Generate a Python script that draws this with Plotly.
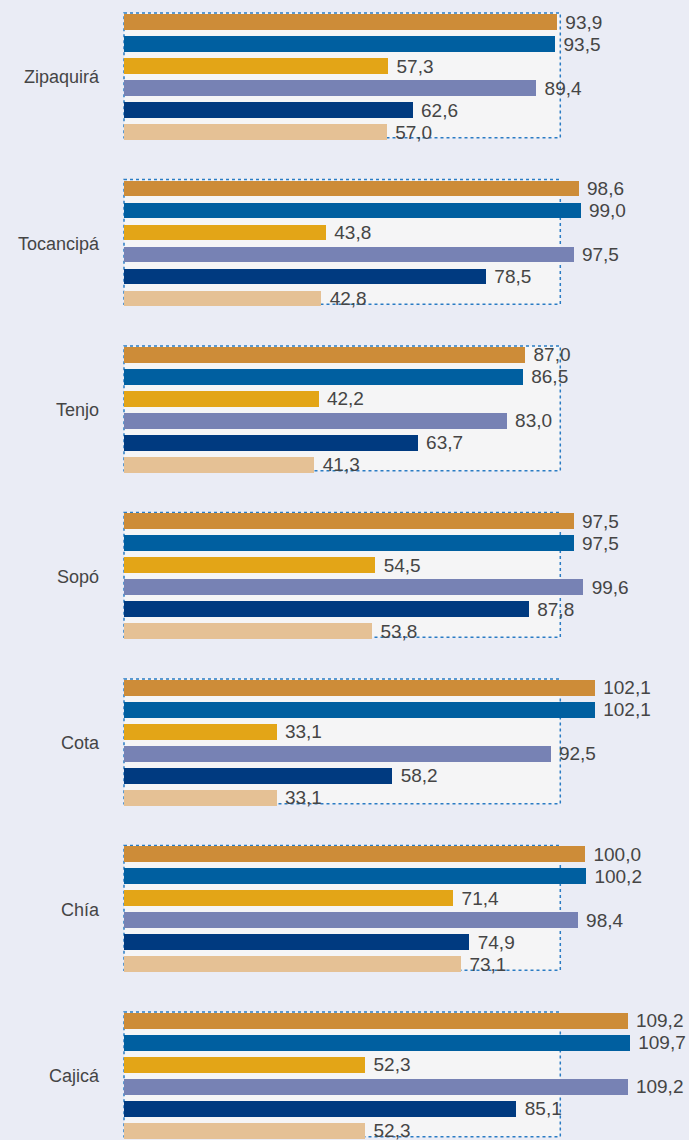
import plotly.graph_objects as go

cities = ["Zipaquirá", "Tocancipá", "Tenjo", "Sopó", "Cota", "Chía", "Cajicá"]
serie_1 = [93.9, 98.6, 87.0, 97.5, 102.1, 100.0, 109.2]
serie_2 = [93.5, 99.0, 86.5, 97.5, 102.1, 100.2, 109.7]
serie_3 = [57.3, 43.8, 42.2, 54.5, 33.1, 71.4, 52.3]
serie_4 = [89.4, 97.5, 83.0, 99.6, 92.5, 98.4, 109.2]
serie_5 = [62.6, 78.5, 63.7, 87.8, 58.2, 74.9, 85.1]
serie_6 = [57.0, 42.8, 41.3, 53.8, 33.1, 73.1, 52.3]

series = [serie_1, serie_2, serie_3, serie_4, serie_5, serie_6]
names = ["Serie 1", "Serie 2", "Serie 3", "Serie 4", "Serie 5", "Serie 6"]
colors = ["#cd8c38", "#005fa0", "#e3a517", "#7782b4", "#003a80", "#e5c195"]

G = 7.568          # group pitch (in bar slots)
BW = 0.727         # bar thickness
PANEL_MAX = 94.6   # right edge of panel box
PX_PER_UNIT = 4.612
FONT = "Liberation Sans, Arial, sans-serif"

def fmt(v):
    return " " + f"{v:.1f}".replace(".", ",")

fig = go.Figure()
for k, (vals, name, col) in enumerate(zip(series, names, colors)):
    ys = [g * G + k for g in range(len(cities))]
    fig.add_trace(go.Bar(
        x=vals, y=ys, orientation="h", width=BW, name=name,
        marker=dict(color=col, line=dict(width=0)),
        text=[fmt(v) for v in vals], textposition="outside",
        textfont=dict(family=FONT, size=19, color="#454545"),
        constraintext="none", cliponaxis=False, showlegend=False,
        hoverinfo="skip",
    ))

shapes = []
for g in range(len(cities)):
    y0 = g * G - BW / 2 - 0.05
    y1 = g * G + 5 + BW / 2 - 0.1
    shapes.append(dict(type="rect", xref="x", yref="y", x0=0, x1=PANEL_MAX,
                       y0=y0, y1=y1, fillcolor="#f5f5f6", layer="below",
                       line=dict(color="#2a7cc4", width=1.5, dash="dot")))

n_slots = 1140 / 22
fig.update_layout(
    width=689, height=1140,
    margin=dict(l=110, r=0, t=0, b=0),
    paper_bgcolor="#eaecf5", plot_bgcolor="#eaecf5",
    shapes=shapes, bargap=0,
    font=dict(family=FONT, color="#454545"),
)
fig.update_xaxes(range=[-14 / PX_PER_UNIT, 565 / PX_PER_UNIT], visible=False,
                 showgrid=False, zeroline=False)
fig.update_yaxes(range=[n_slots - 1, -1], showgrid=False, zeroline=False,
                 tickvals=[g * G + 2.5 for g in range(len(cities))],
                 ticktext=cities, ticks="", ticklabelstandoff=10,
                 tickfont=dict(family=FONT, size=18, color="#454545"),
                 showline=False)

fig.write_html("out.html", config={"displayModeBar": False, "staticPlot": True},
               post_script="document.body.style.margin='0';document.body.style.overflow='hidden';")
